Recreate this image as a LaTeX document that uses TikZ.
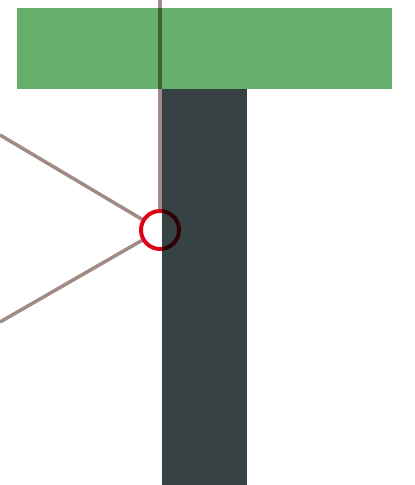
\documentclass[tikz,border=0pt]{standalone}
\usetikzlibrary{positioning}
\definecolor{leafgreen}{RGB}{102,175,107}
\definecolor{trunkgrey}{RGB}{55,66,68}
\definecolor{wirebrown}{RGB}{160,140,133}
\definecolor{jointred}{RGB}{222,0,20}
\begin{document}
\begin{tikzpicture}[x=0.025cm, y=-0.025cm,
        wire/.style={draw=wirebrown, line width=2.5pt},
        joint/.style={circle, draw=jointred, line width=2.8pt,
                      minimum size=0.95cm, inner sep=0pt}
    ]
    \useasboundingbox (0,0) rectangle (414,485);
    \fill[leafgreen] (17,8.5) rectangle (391.7,88.7);
    \fill[trunkgrey] (161.7,88.7) rectangle (246.7,485);

    \begin{scope}[blend mode=multiply]
    \node[joint] (pin) at (160,230) {};
    \coordinate (top)   at (160,0);
    \coordinate (upper) at (0,135);
    \coordinate (lower) at (0,322);

    \draw[wire] (top) -- (pin.north);
    \draw[wire] (upper) -- (pin);
    \draw[wire] (lower) -- (pin);
    \end{scope}
\end{tikzpicture}
\end{document}
